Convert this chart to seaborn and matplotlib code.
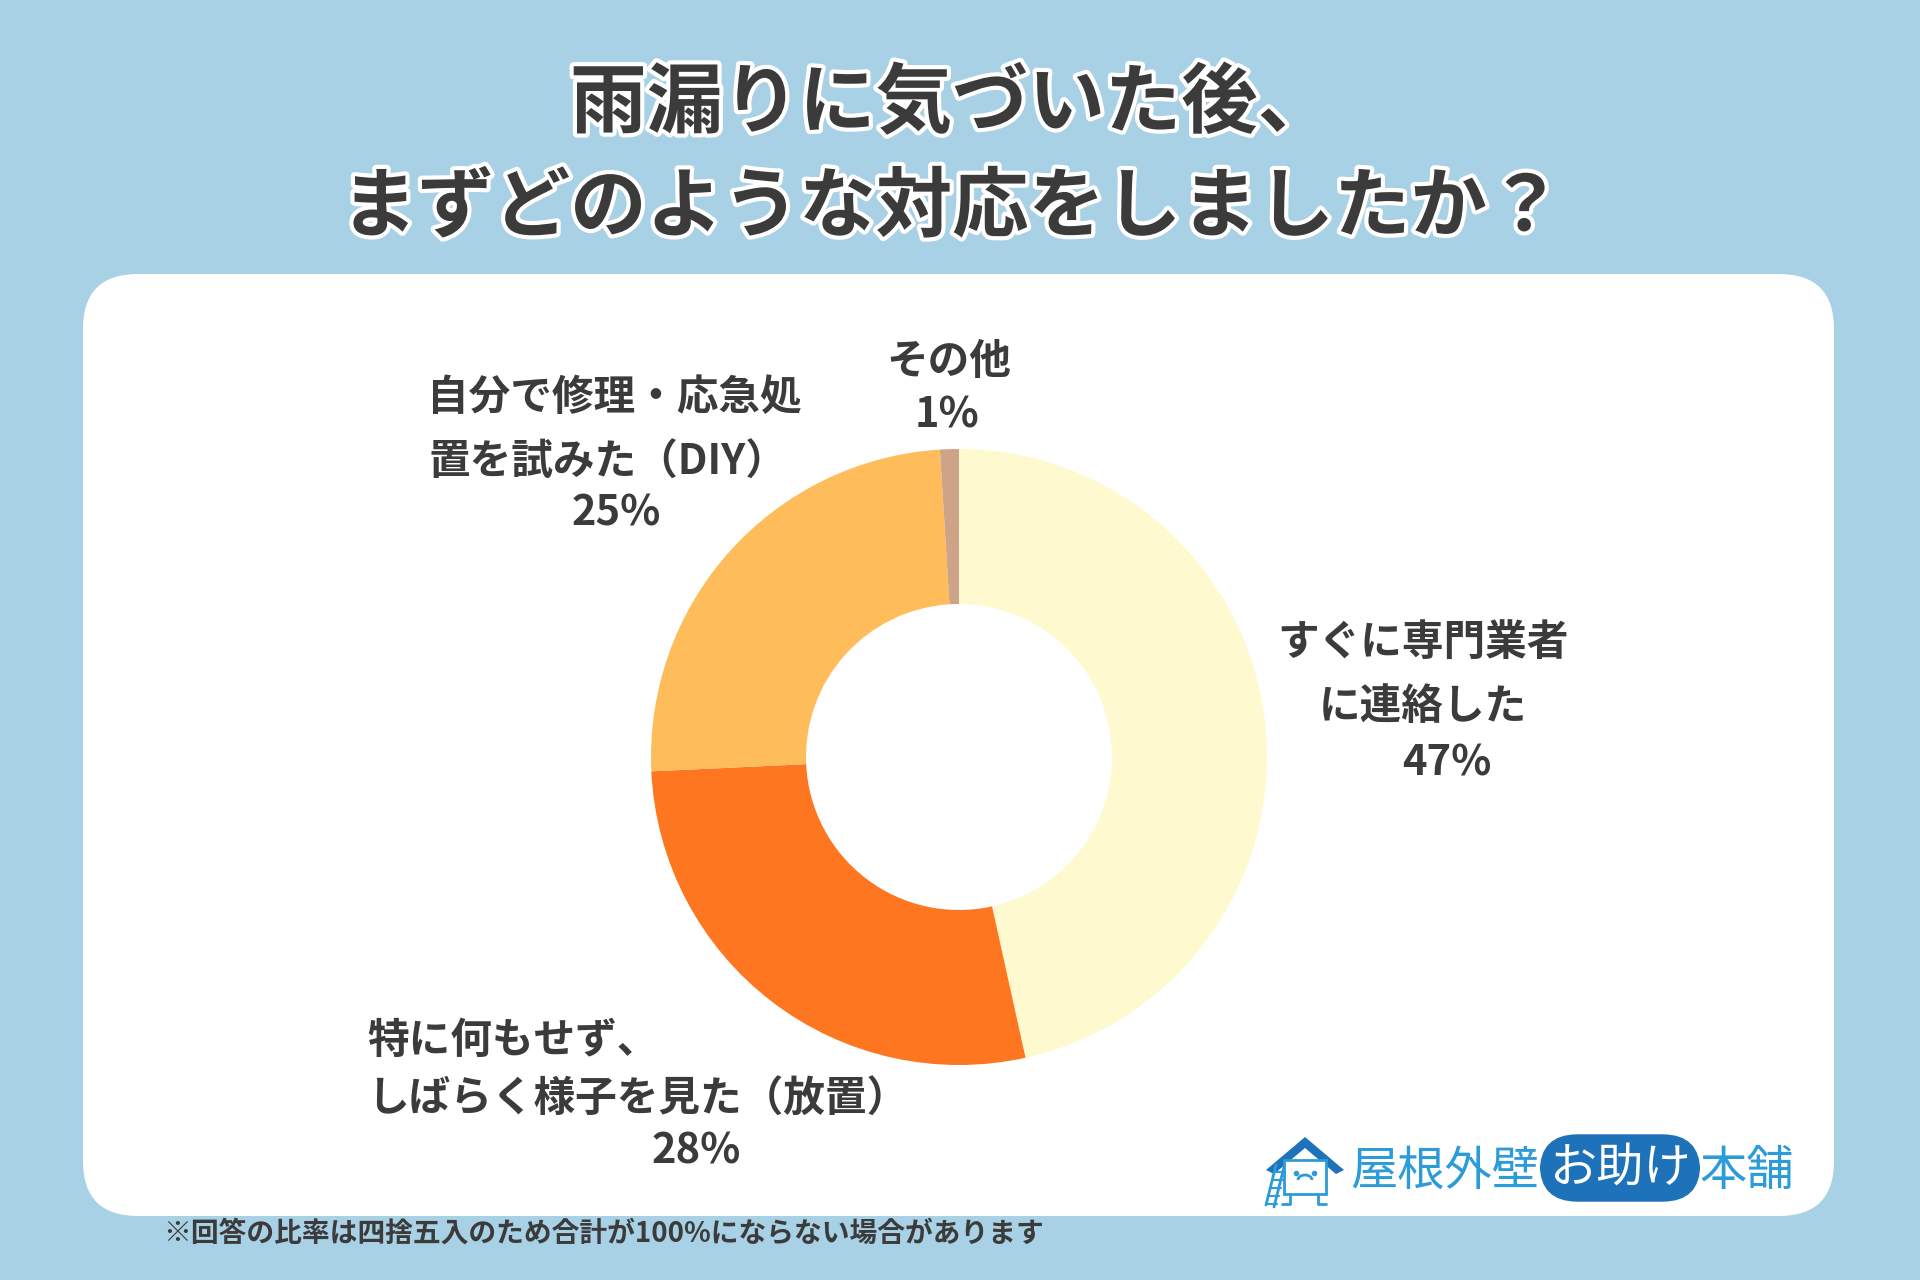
import matplotlib
matplotlib.use("Agg")
import matplotlib.pyplot as plt
import matplotlib.patheffects as pe
from matplotlib.patches import FancyBboxPatch, Polygon, Rectangle, Arc
import seaborn as sns

# survey data
categories = ["すぐに専門業者\nに連絡した", "特に何もせず、\nしばらく様子を見た（放置）",
              "自分で修理・応急処\n置を試みた（DIY）", "その他"]
shares = [47, 28, 25, 1]
colors = ["#FFF9D0", "#FF7621", "#FFBC5B", "#CFA388"]

title = "雨漏りに気づいた後、\nまずどのような対応をしましたか？"
note = "※回答の比率は四捨五入のため合計が100%にならない場合があります"

sns.set_theme(style="white")
plt.rcParams['font.family'] = ['Noto Sans CJK JP', 'DejaVu Sans']

BG = "#A9D1E6"
TXT = "#3B3B3B"
W, H = 1920, 1280

fig = plt.figure(figsize=(19.2, 12.8), dpi=100, facecolor=BG)

# background canvas in pixel coordinates
bg = fig.add_axes([0, 0, 1, 1])
bg.set_xlim(0, W)
bg.set_ylim(H, 0)
bg.axis("off")
bg.add_patch(FancyBboxPatch((83, 274), 1751, 942,
                            boxstyle="round,pad=0,rounding_size=55",
                            fc="white", ec="none"))

# title with white outline
lines = title.split("\n")
for txt, y in zip(lines, [104, 208]):
    bg.text(952, y, txt, ha="center", va="center", fontsize=55, fontweight="bold",
            color=TXT, path_effects=[pe.withStroke(linewidth=6, foreground="white")])

# donut chart
cx, cy, r = 959, 757, 308
box = 330
pax = fig.add_axes([(cx - box) / W, (H - cy - box) / H, 2 * box / W, 2 * box / H])
pax.pie(shares, colors=colors, startangle=90, counterclock=False,
        radius=r / box, wedgeprops=dict(width=(r - 153) / box, edgecolor="none"))
pax.set_xlim(-1, 1)
pax.set_ylim(-1, 1)
pax.set_aspect("equal")

# labels
lab = dict(fontsize=30, fontweight="bold", color=TXT, va="center")
l0 = categories[0].split("\n")
bg.text(1423, 643, l0[0], ha="center", **lab)
bg.text(1423, 707, l0[1], ha="center", **lab)
bg.text(1447, 763, f"{shares[0]}%", ha="center", **lab)

l1 = categories[1].split("\n")
bg.text(367, 1041, l1[0], ha="left", **lab)
bg.text(638, 1100, l1[1], ha="center", **lab)
bg.text(696, 1151, f"{shares[1]}%", ha="center", **lab)

l2 = categories[2].split("\n")
bg.text(614, 398, l2[0], ha="center", **lab)
bg.text(608, 463, l2[1], ha="center", **lab)
bg.text(616, 514, f"{shares[2]}%", ha="center", **lab)

bg.text(949, 362, categories[3], ha="center", **lab)
bg.text(947, 416, f"{shares[3]}%", ha="center", **lab)

# footnote
bg.text(163, 1234, note, ha="left", va="center", fontsize=20, fontweight="bold", color=TXT)

# logo
BLUE = "#2B9BD9"
DBLUE = "#1D72BA"
bg.add_patch(Polygon([[1266, 1170], [1305, 1137], [1344, 1170], [1336, 1174],
                      [1305, 1148], [1274, 1174]], closed=True, fc=DBLUE, ec="none"))
bg.add_patch(Rectangle((1284, 1160), 42, 34, fc="white", ec=BLUE, lw=2))
bg.plot([1296, 1314], [1173, 1173], ls="none", marker="o", ms=3, color=BLUE)
bg.add_patch(Arc((1305, 1180), 14, 10, theta1=180, theta2=360, color=BLUE, lw=2))
bg.plot([1290, 1290, 1282], [1194, 1204, 1204], color=BLUE, lw=2)
bg.plot([1318, 1318, 1326], [1194, 1204, 1204], color=BLUE, lw=2)
bg.plot([1266, 1276], [1205, 1165], color=BLUE, lw=2)
bg.plot([1274, 1284], [1207, 1167], color=BLUE, lw=2)
for yy in range(1172, 1206, 8):
    bg.plot([1268 + (1205 - yy) * 0.25 - 1, 1276 + (1205 - yy) * 0.25 + 1], [yy, yy],
            color=BLUE, lw=1.5)
bg.text(1350, 1172, "屋根外壁", ha="left", va="center", fontsize=34, color=BLUE)
bg.text(1620, 1168, "お助け", ha="center", va="center", fontsize=34, color="white",
        bbox=dict(boxstyle="round,pad=0.2,rounding_size=0.8", fc=DBLUE, ec="none"))
bg.text(1700, 1172, "本舗", ha="left", va="center", fontsize=34, color=BLUE)

fig.savefig("out.png", dpi=100, facecolor=BG)
